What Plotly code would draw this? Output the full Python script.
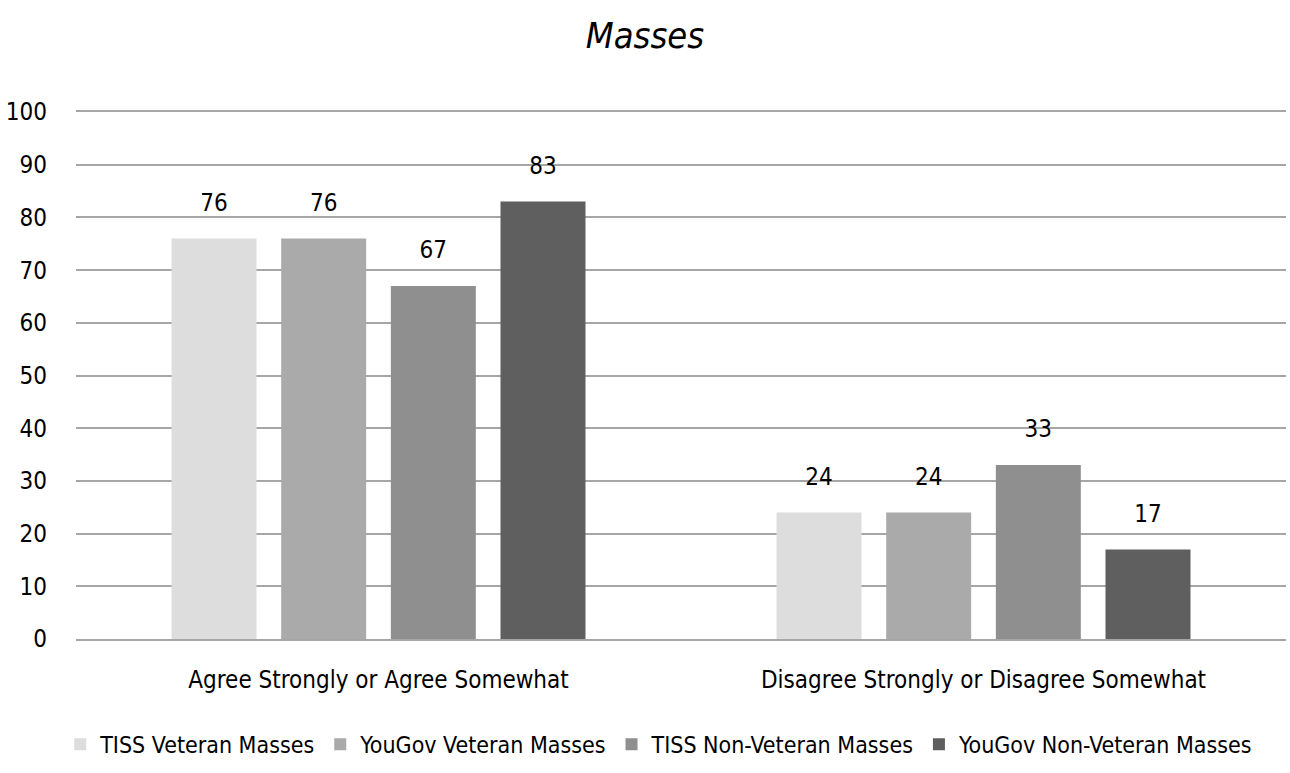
import plotly.graph_objects as go

categories = ["Agree Strongly or Agree Somewhat", "Disagree Strongly or Disagree Somewhat"]
series_names = ["TISS Veteran Masses", "YouGov Veteran Masses", "TISS Non-Veteran Masses", "YouGov Non-Veteran Masses"]
tiss_veteran = [76, 24]
yougov_veteran = [76, 24]
tiss_nonveteran = [67, 33]
yougov_nonveteran = [83, 17]
colors = ["#DDDDDD", "#AAAAAA", "#8F8F8F", "#5F5F5F"]
y_ticks = [0, 10, 20, 30, 40, 50, 60, 70, 80, 90, 100]

FONT = "DejaVu Sans Condensed, Liberation Sans Narrow, Arial Narrow, sans-serif"

fig = go.Figure()
for name, vals, col in zip(series_names, [tiss_veteran, yougov_veteran, tiss_nonveteran, yougov_nonveteran], colors):
    fig.add_trace(go.Bar(
        x=categories, y=vals, name=name, marker=dict(color=col, line=dict(width=0)),
        text=[f"<span style='font-size:24px'>{v}</span><br> " for v in vals],
        textposition="outside", cliponaxis=False,
        textfont=dict(family=FONT, size=16, color="#000000"),
        hovertemplate="%{x}: %{y}<extra>" + name + "</extra>",
    ))

fig.update_layout(
    width=1290, height=773,
    margin=dict(l=76, r=4, t=112, b=134),
    paper_bgcolor="white", plot_bgcolor="white",
    barmode="group", bargap=0.275, bargroupgap=0.225,
    font=dict(family=FONT, size=24, color="#000000"),
    title=dict(text="<i>Masses</i>", x=0.5, xanchor="center", y=1 - 35/773, yanchor="middle",
               font=dict(family=FONT, size=36, color="#000000")),
    legend=dict(orientation="h", x=0.482, xanchor="center", y=-0.2, yanchor="middle",
                font=dict(family=FONT, size=23, color="#000000"),
                traceorder="normal", itemwidth=30),
    showlegend=True,
)
fig.update_yaxes(range=[0, 100], tickvals=y_ticks, showgrid=True, gridcolor="#A6A6A6", gridwidth=1.5,
                 zeroline=False, showline=False, ticks="", ticklabelstandoff=28,
                 tickfont=dict(family=FONT, size=24, color="#000000"))
fig.update_xaxes(showline=True, mirror=True, linecolor="#A6A6A6", linewidth=1.5, ticks="",
                 tickfont=dict(family=FONT, size=24, color="#000000"), ticklabelstandoff=18)

fig.write_html("out.html")
